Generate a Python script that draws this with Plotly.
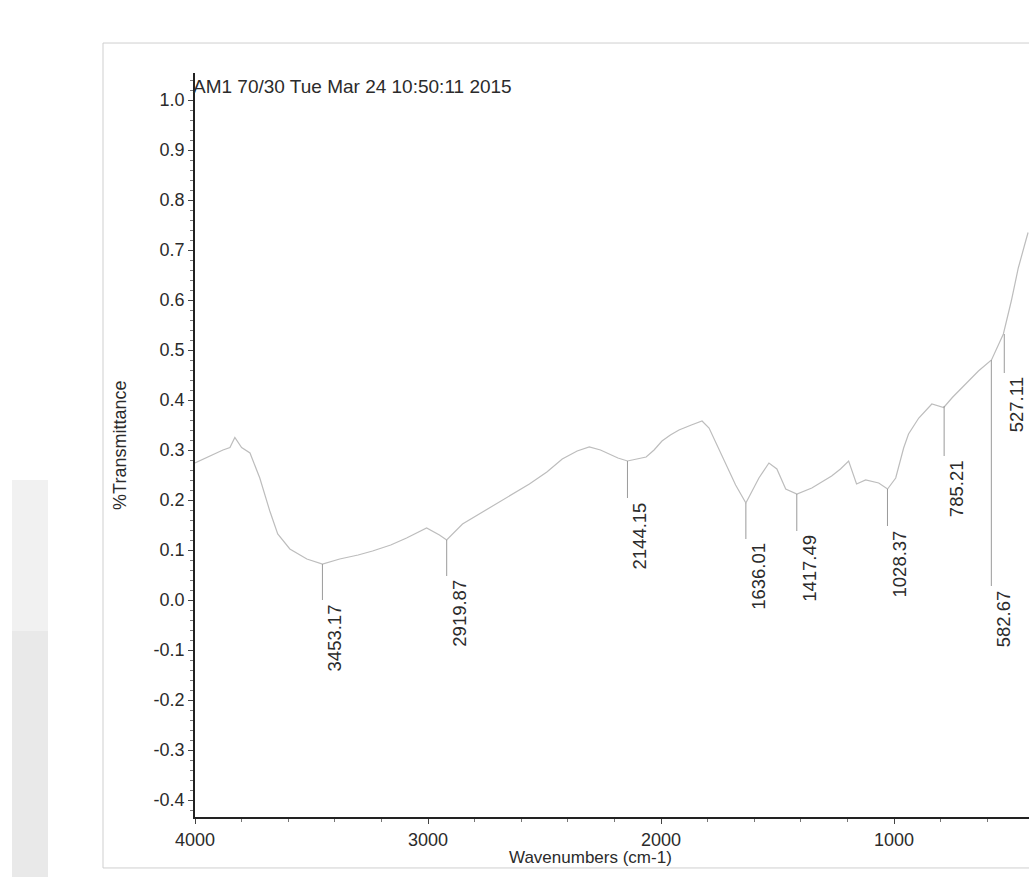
import plotly.graph_objects as go

# ---- data ----
wavenumbers = [4000, 3950, 3900, 3880, 3850, 3829, 3800, 3764, 3722, 3679, 3645, 3593,
               3520, 3453, 3379, 3300, 3238, 3160, 3092, 3006, 2951, 2920, 2852, 2780,
               2707, 2640, 2565, 2490, 2424, 2360, 2308, 2260, 2223, 2185, 2144, 2100,
               2064, 2030, 1996, 1960, 1923, 1870, 1824, 1794, 1760, 1722, 1680, 1636,
               1600, 1580, 1537, 1503, 1465, 1417, 1353, 1300, 1268, 1230, 1195, 1161,
               1122, 1066, 1028, 993, 959, 938, 894, 838, 787, 750, 710, 638, 582, 531,
               497, 467, 437, 425]
transmittance = [0.274, 0.285, 0.295, 0.300, 0.305, 0.325, 0.305, 0.294, 0.244, 0.178, 0.132, 0.102,
                 0.082, 0.072, 0.082, 0.090, 0.098, 0.110, 0.124, 0.144, 0.130, 0.120, 0.152, 0.172,
                 0.192, 0.212, 0.232, 0.256, 0.282, 0.298, 0.306, 0.300, 0.292, 0.284, 0.278, 0.282,
                 0.286, 0.300, 0.318, 0.330, 0.340, 0.350, 0.358, 0.344, 0.310, 0.272, 0.230, 0.194,
                 0.225, 0.244, 0.274, 0.262, 0.222, 0.212, 0.224, 0.238, 0.248, 0.262, 0.278, 0.232,
                 0.240, 0.234, 0.222, 0.244, 0.304, 0.332, 0.364, 0.392, 0.385, 0.405, 0.424, 0.458,
                 0.480, 0.532, 0.598, 0.664, 0.715, 0.735]

peak_wn = [3453.17, 2919.87, 2144.15, 1636.01, 1417.49, 1028.37, 785.21, 582.67, 527.11]
peak_labels = ["3453.17", "2919.87", "2144.15", "1636.01", "1417.49", "1028.37", "785.21", "582.67", "527.11"]
peak_top = [0.072, 0.120, 0.278, 0.194, 0.212, 0.222, 0.388, 0.480, 0.532]
peak_end = [0.000, 0.048, 0.204, 0.122, 0.138, 0.148, 0.288, 0.028, 0.454]

x_ticks = [4000, 3000, 2000, 1000]
y_ticks = [1.0, 0.9, 0.8, 0.7, 0.6, 0.5, 0.4, 0.3, 0.2, 0.1, 0.0, -0.1, -0.2, -0.3, -0.4]

title_text = "AM1 70/30 Tue Mar 24 10:50:11 2015"
x_title = "Wavenumbers (cm-1)"
y_title = "%Transmittance"

FONT = "Liberation Sans, Arial, sans-serif"
TXT = "#2b2b2b"

fig = go.Figure()

fig.add_trace(go.Scatter(x=wavenumbers, y=transmittance, mode="lines",
                         line=dict(color="#bdbdbd", width=1.2), hoverinfo="skip",
                         showlegend=False))

# peak marker lines
lx, ly = [], []
for w, t, e in zip(peak_wn, peak_top, peak_end):
    lx += [w, w, None]
    ly += [t, e, None]
fig.add_trace(go.Scatter(x=lx, y=ly, mode="lines", line=dict(color="#9a9a9a", width=1),
                         hoverinfo="skip", showlegend=False))

annotations = []
for w, e, lab in zip(peak_wn, peak_end, peak_labels):
    annotations.append(dict(x=w, y=e, xref="x", yref="y", text=lab, showarrow=False,
                            textangle=-90, xanchor="left", yanchor="top", xshift=0, yshift=-2,
                            font=dict(family=FONT, size=18.5, color=TXT)))

annotations.append(dict(x=-0.005, y=0.9825, xref="paper", yref="paper", text=title_text,
                        showarrow=False, xanchor="left", yanchor="middle",
                        font=dict(family=FONT, size=19, color=TXT)))
annotations.append(dict(x=-0.09, y=0.5, xref="paper", yref="paper", text=y_title,
                        showarrow=False, textangle=-90, xanchor="center", yanchor="middle",
                        font=dict(family=FONT, size=18, color=TXT)))
annotations.append(dict(x=0.474, y=-0.055, xref="paper", yref="paper", text=x_title,
                        showarrow=False, xanchor="center", yanchor="middle",
                        font=dict(family=FONT, size=17, color=TXT)))

shapes = [
    # scanned page frame
    dict(type="rect", xref="paper", yref="paper", x0=-0.1103, x1=1.01, y0=-0.0685, y1=1.0403,
         line=dict(color="#cfcfcf", width=1), fillcolor="rgba(0,0,0,0)", layer="below"),
    # scanner edge shading
    dict(type="rect", xref="paper", yref="paper", x0=-0.2194, x1=-0.1763, y0=-0.0806, y1=0.453,
         line=dict(width=0), fillcolor="#f1f1f1", layer="below"),
    dict(type="rect", xref="paper", yref="paper", x0=-0.2194, x1=-0.1763, y0=-0.0806, y1=0.25,
         line=dict(width=0), fillcolor="#e9e9e9", layer="below"),
]

fig.update_layout(
    width=1029, height=877,
    margin=dict(l=195, r=0, t=73, b=60),
    paper_bgcolor="white", plot_bgcolor="white",
    showlegend=False,
    annotations=annotations,
    shapes=shapes,
    font=dict(family=FONT, size=18, color=TXT),
)

fig.update_xaxes(range=[4000, 421], tickvals=x_ticks, ticktext=[str(v) for v in x_ticks],
                 showgrid=False, zeroline=False, showline=True, linecolor="#222", linewidth=2,
                 ticks="outside", ticklen=5, tickcolor="#444", tickwidth=1,
                 tickfont=dict(family=FONT, size=18, color=TXT),
                 minor=dict(dtick=200, tick0=0, ticks="outside", ticklen=3, tickcolor="#777"))
fig.update_yaxes(range=[-0.434, 1.054], tickvals=y_ticks, ticktext=[f"{v:.1f}" for v in y_ticks],
                 showgrid=False, zeroline=False, showline=True, linecolor="#222", linewidth=1.5,
                 ticks="outside", ticklen=5, tickcolor="#444", tickwidth=1,
                 tickfont=dict(family=FONT, size=18, color=TXT),
                 minor=dict(dtick=0.02, tick0=0, ticks="outside", ticklen=3, tickcolor="#777"))

fig.write_html("out.html", config={"displayModeBar": False},
               post_script="document.body.style.margin='0';document.body.style.overflow='hidden';")
